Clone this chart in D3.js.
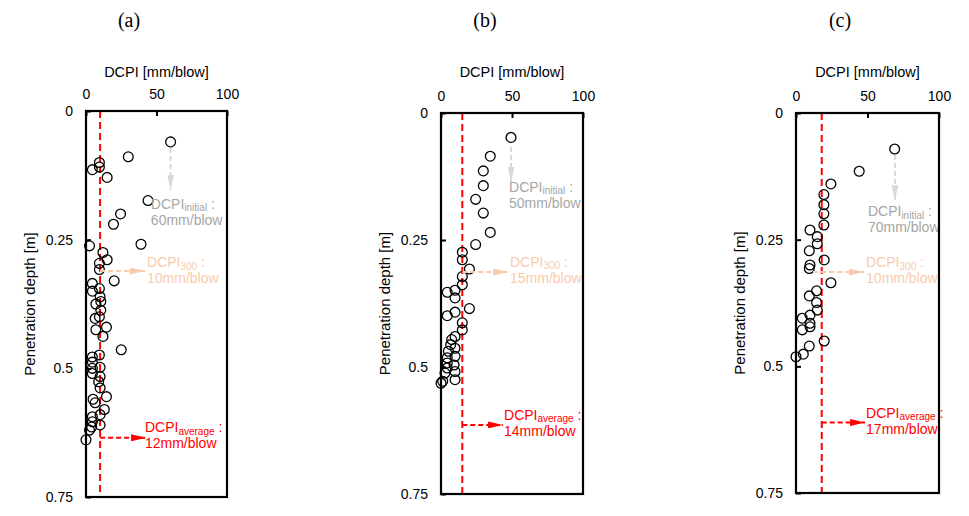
<!DOCTYPE html>
<html>
<head>
<meta charset="utf-8">
<script src="https://cdn.jsdelivr.net/npm/d3@7"></script>
<style>
  html, body { margin: 0; padding: 0; background: #fff; }
  svg { display: block; }
</style>
</head>
<body>
<svg id="chart" width="969" height="516"></svg>
<script>
// ---------- DATA ----------
const panelTitles = ["(a)", "(b)", "(c)"];
const xTickValues = [0, 50, 100];
const yTickValues = [0, 0.25, 0.5, 0.75];
const yTickLabels = ["0", "0.25", "0.5", "0.75"];
const xAxisTitle = "DCPI [mm/blow]";
const yAxisTitle = "Penetration depth [m]";

// [DCPI mm/blow, depth m]
const pointsA = [
  [60,0.060],[30,0.089],[9.5,0.100],[9.5,0.109],[4.5,0.114],[15,0.129],[44,0.174],[24.5,0.200],
  [19.5,0.220],[2.5,0.262],[39,0.259],[12,0.275],[15,0.289],[9.5,0.296],[9.5,0.308],[20,0.330],
  [4.5,0.335],[9.5,0.345],[4.5,0.350],[10,0.361],[10.5,0.370],[7,0.375],[10.5,0.387],[6.5,0.403],
  [9.5,0.400],[14.5,0.420],[7,0.425],[12,0.438],[25,0.464],[9.5,0.474],[4.5,0.478],[4.5,0.488],
  [10,0.498],[4.5,0.500],[4.5,0.510],[10,0.516],[9,0.526],[10,0.538],[14.5,0.555],[5,0.560],
  [6.5,0.567],[13,0.580],[10,0.590],[4.5,0.594],[4.5,0.604],[10,0.610],[4,0.614],[2.5,0.620],[0,0.639]
];
const pointsB = [
  [49.3,0.048],[34.7,0.085],[29.8,0.114],[29.8,0.143],[24.4,0.170],[29.8,0.197],[34.7,0.235],
  [24.4,0.259],[15,0.274],[15,0.289],[20,0.307],[15,0.322],[15,0.338],[9.9,0.349],[4.4,0.353],
  [9.9,0.364],[20,0.385],[9.9,0.392],[4.4,0.399],[15,0.413],[15,0.427],[9.9,0.440],[7.5,0.446],
  [6.8,0.456],[9.9,0.463],[5.2,0.469],[9.9,0.479],[4.4,0.482],[4.4,0.492],[9.2,0.496],[4.4,0.502],
  [9.9,0.509],[2.8,0.512],[9.9,0.525],[1.2,0.528],[0,0.532]
];
const pointsC = [
  [69,0.071],[44.2,0.115],[24.4,0.140],[19.5,0.161],[19.5,0.181],[19.5,0.199],[19.5,0.221],
  [9.8,0.231],[14.9,0.244],[14.9,0.258],[9.3,0.272],[19.7,0.290],[9.8,0.300],[9.3,0.307],
  [24.4,0.335],[14.4,0.351],[9.3,0.361],[14.4,0.374],[14.9,0.389],[9.8,0.399],[4.4,0.405],
  [9.8,0.415],[9.8,0.422],[4.4,0.428],[19.7,0.450],[9.3,0.460],[5.1,0.476],[0,0.481]
];
const pointSets = [pointsA, pointsB, pointsC];

// red dashed reference line (DCPI value)
const refLineValues = [10, 15, 18];

// annotation values
const initialValues = ["60mm/blow", "50mm/blow", "70mm/blow"];
const d300Values = ["10mm/blow", "15mm/blow", "10mm/blow"];
const averageValues = ["12mm/blow", "14mm/blow", "17mm/blow"];

// ---------- LAYOUT ----------
const boxes = [
  {left: 86,  right: 227, top: 111, bottom: 497},
  {left: 441, right: 583, top: 113, bottom: 494},
  {left: 796, right: 939, top: 113, bottom: 493}
];
const titleX = [129, 485, 840];

// annotation placement in data units
const annInitial = [
  {ax: 60, y1: 0.072, y2: 0.153, tx: 46, ty: 0.190},
  {ax: 49.3, y1: 0.067, y2: 0.136, tx: 47.9, ty: 0.155},
  {ax: 69.2, y1: 0.083, y2: 0.172, tx: 50.3, ty: 0.204}
];
const ann300 = [
  {ay: 0.311, x1: 10, x2: 41.8, tx: 43.3, ty: 0.304},
  {ay: 0.313, x1: 15, x2: 47.2, tx: 48.6, ty: 0.303},
  {ay: 0.314, x1: 11.9, x2: 47.6, tx: 49, ty: 0.304}
];
const annAvg = [
  {ay: 0.635, x1: 10, x2: 42.6, tx: 41.8, ty: 0.624},
  {ay: 0.614, x1: 15, x2: 43.7, tx: 44.4, ty: 0.604},
  {ay: 0.611, x1: 18, x2: 48.3, tx: 49, ty: 0.601}
];

const COL_GRAY_TXT = "#a6a6a6", COL_GRAY_ARR = "#d9d9d9";
const COL_PEACH = "#f8cbad", COL_RED = "#ff0000";
const FONT = "'Liberation Sans', Arial, sans-serif";

const svg = d3.select("#chart");

const defs = svg.append("defs");
function marker(id, color) {
  defs.append("marker")
    .attr("id", id).attr("viewBox", "0 0 10 10")
    .attr("refX", 10).attr("refY", 5)
    .attr("markerUnits", "userSpaceOnUse")
    .attr("markerWidth", 15).attr("markerHeight", 7)
    .attr("orient", "auto")
    .attr("preserveAspectRatio", "none")
    .append("path").attr("d", "M0,0 L10,5 L0,10 Z").attr("fill", color);
}
marker("arrGray", COL_GRAY_ARR);
marker("arrPeach", COL_PEACH);
marker("arrRed", COL_RED);

function label(g, x, y, sub, val, color) {
  const t = g.append("text").attr("x", x).attr("y", y)
    .attr("font-family", FONT).attr("font-size", 14).attr("fill", color);
  t.append("tspan").text("DCPI");
  t.append("tspan").attr("font-size", 10).attr("dy", 2.5).text(sub);
  t.append("tspan").attr("dy", -2.5).text(" :");
  g.append("text").attr("x", x).attr("y", y + 16)
    .attr("font-family", FONT).attr("font-size", 14).attr("fill", color)
    .text(val);
}

boxes.forEach((b, i) => {
  const g = svg.append("g");
  const x = d3.scaleLinear().domain([0, 100]).range([b.left, b.right]);
  const y = d3.scaleLinear().domain([0, 0.75]).range([b.top, b.bottom]);

  // panel title
  svg.append("text").attr("x", titleX[i]).attr("y", 27)
    .attr("text-anchor", "middle")
    .attr("font-family", "'Liberation Serif', 'Times New Roman', serif")
    .attr("font-size", 20).text(panelTitles[i]);

  // x axis (top)
  const xAxis = d3.axisTop(x).tickValues(xTickValues).tickSize(-5).tickPadding(12)
    .tickFormat(d3.format("d"));
  const gx = g.append("g").attr("transform", `translate(0,${b.top})`).call(xAxis);
  gx.select(".domain").remove();
  gx.selectAll("line").attr("stroke", "#000").attr("stroke-width", 2);
  gx.selectAll("text").attr("font-family", FONT).attr("font-size", 14).attr("fill", "#000");

  // y axis (left)
  const yAxis = d3.axisLeft(y).tickValues(yTickValues).tickSize(-5).tickPadding(13)
    .tickFormat((d, k) => yTickLabels[k]);
  const gy = g.append("g").attr("transform", `translate(${b.left},0)`).call(yAxis);
  gy.select(".domain").remove();
  gy.selectAll("line").attr("stroke", "#000").attr("stroke-width", 2);
  gy.selectAll("text").attr("font-family", FONT).attr("font-size", 14).attr("fill", "#000");

  // axis titles
  g.append("text").attr("x", (b.left + b.right) / 2).attr("y", 77)
    .attr("text-anchor", "middle").attr("font-family", FONT).attr("font-size", 14.5)
    .text(xAxisTitle);
  g.append("text")
    .attr("transform", `translate(${b.left - 51},${(b.top + b.bottom) / 2}) rotate(-90)`)
    .attr("text-anchor", "middle").attr("font-family", FONT).attr("font-size", 15)
    .text(yAxisTitle);

  // red dashed reference line
  g.append("line")
    .attr("x1", x(refLineValues[i])).attr("x2", x(refLineValues[i]))
    .attr("y1", b.top).attr("y2", b.bottom)
    .attr("stroke", COL_RED).attr("stroke-width", 2).attr("stroke-dasharray", "7,4");

  // points
  g.append("g").selectAll("circle").data(pointSets[i]).join("circle")
    .attr("cx", d => x(d[0])).attr("cy", d => y(d[1])).attr("r", 4.9)
    .attr("fill", "none").attr("stroke", "#000").attr("stroke-width", 1.3);

  // initial annotation
  const ai = annInitial[i];
  g.append("line").attr("x1", x(ai.ax)).attr("x2", x(ai.ax))
    .attr("y1", y(ai.y1)).attr("y2", y(ai.y2))
    .attr("stroke", COL_GRAY_ARR).attr("stroke-width", 2).attr("stroke-dasharray", "5,3")
    .attr("marker-end", "url(#arrGray)");
  label(g, x(ai.tx), y(ai.ty), "initial", initialValues[i], COL_GRAY_TXT);

  // 300 annotation
  const a3 = ann300[i];
  g.append("line").attr("x1", x(a3.x1)).attr("x2", x(a3.x2))
    .attr("y1", y(a3.ay)).attr("y2", y(a3.ay))
    .attr("stroke", COL_PEACH).attr("stroke-width", 2).attr("stroke-dasharray", "5,3")
    .attr("marker-end", "url(#arrPeach)");
  label(g, x(a3.tx), y(a3.ty), "300", d300Values[i], COL_PEACH);

  // average annotation
  const aa = annAvg[i];
  g.append("line").attr("x1", x(aa.x1)).attr("x2", x(aa.x2))
    .attr("y1", y(aa.ay)).attr("y2", y(aa.ay))
    .attr("stroke", COL_RED).attr("stroke-width", 2).attr("stroke-dasharray", "5,3")
    .attr("marker-end", "url(#arrRed)");
  label(g, x(aa.tx), y(aa.ty), "average", averageValues[i], COL_RED);

  // frame
  g.append("rect").attr("x", b.left).attr("y", b.top)
    .attr("width", b.right - b.left).attr("height", b.bottom - b.top)
    .attr("fill", "none").attr("stroke", "#000").attr("stroke-width", 2.2);
});
</script>
</body>
</html>
